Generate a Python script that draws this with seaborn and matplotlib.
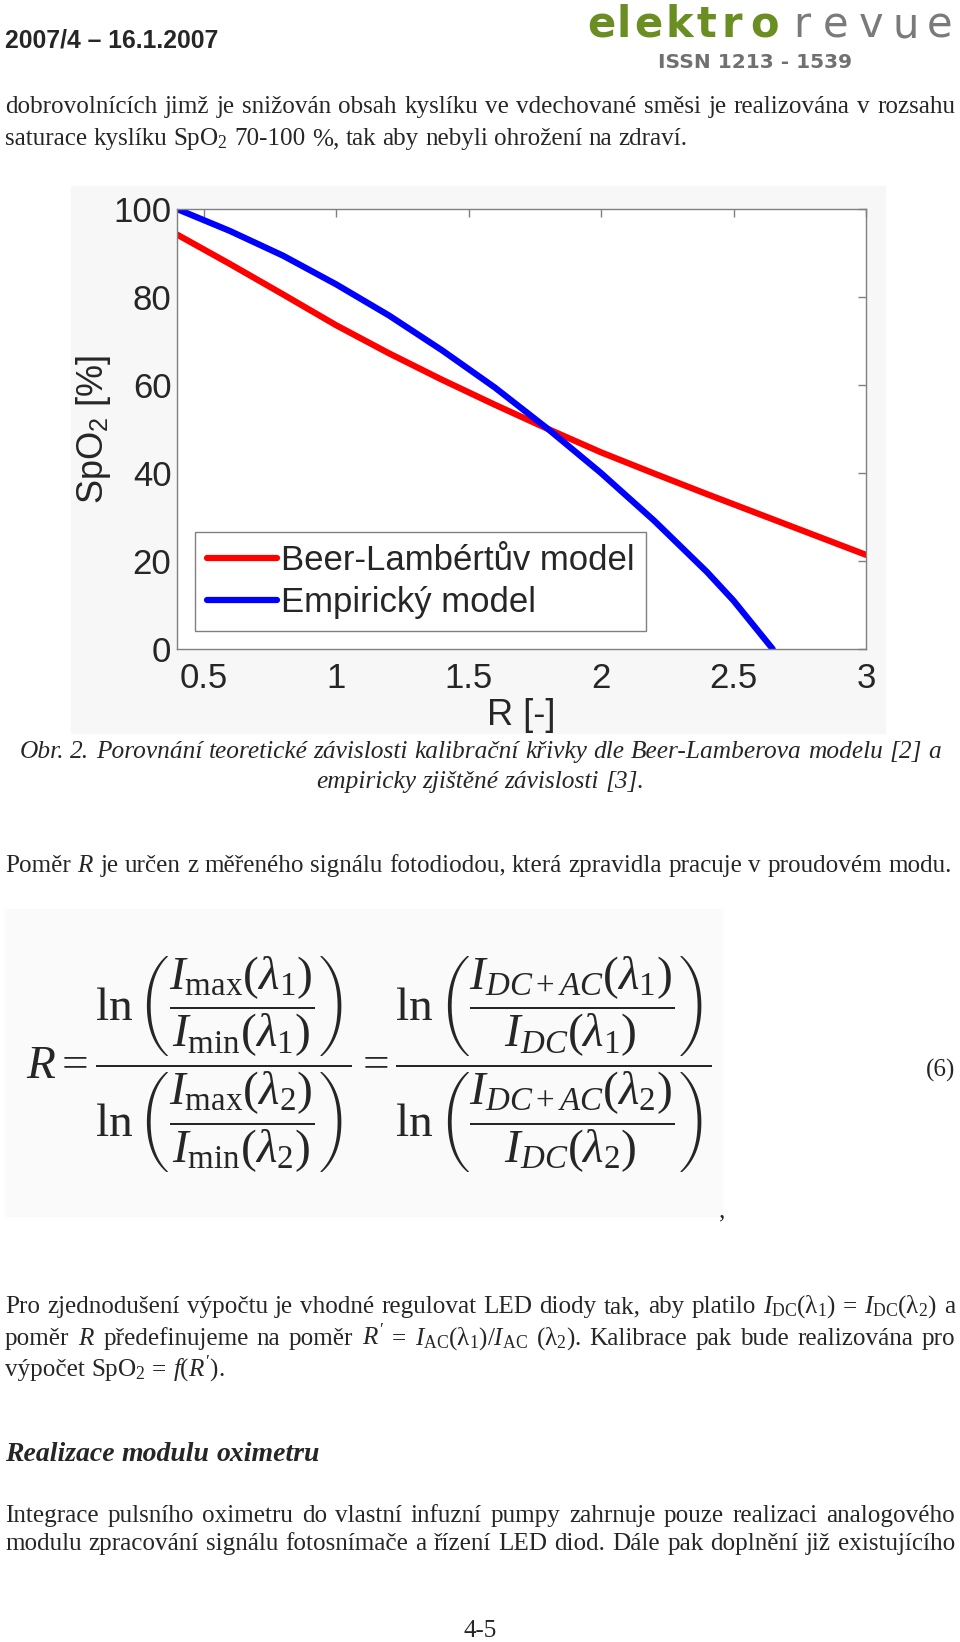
import matplotlib
matplotlib.use('Agg')
import matplotlib.pyplot as plt
import seaborn as sns
import pandas as pd
from matplotlib.patches import Rectangle

# hodnoty (Obr. 2)
r_beer = [0.4, 0.6, 0.8, 1.0, 1.2, 1.4, 1.6, 1.8, 2.0, 2.2, 2.4, 2.6, 2.8, 3.0]
spo2_beer = [94.2, 87.5, 80.6, 73.6, 67.2, 61.2, 55.5, 50.0, 44.7, 39.9, 35.2, 30.6, 26.0, 21.4]
r_emp = [0.4, 0.6, 0.8, 1.0, 1.2, 1.4, 1.6, 1.8, 2.0, 2.2, 2.4, 2.5, 2.648]
spo2_emp = [100.0, 95.0, 89.4, 82.9, 75.8, 67.9, 59.4, 50.0, 40.0, 29.2, 17.5, 11.0, 0.0]
model_names = ['Beer-Lambértův model', 'Empirický model']
model_colors = ['#ff0000', '#0000ff']
x_ticks = [0.5, 1, 1.5, 2, 2.5, 3]
x_tick_labels = ['0.5', '1', '1.5', '2', '2.5', '3']
y_ticks = [0, 20, 40, 60, 80, 100]

sns.set_style('white')
plt.rcParams['font.family'] = ['Liberation Serif', 'DejaVu Serif']
plt.rcParams['mathtext.fontset'] = 'custom'
plt.rcParams['mathtext.rm'] = 'Liberation Serif'
plt.rcParams['mathtext.it'] = 'Liberation Serif:italic'
plt.rcParams['mathtext.bf'] = 'Liberation Serif:bold'
plt.rcParams['mathtext.sf'] = 'Liberation Sans'

W, H = 960, 1642
BODY = 18.1
CHART_FONT = 25
fig = plt.figure(figsize=(W / 100, H / 100), dpi=100)
fig.patch.set_facecolor('white')
rend = fig.canvas.get_renderer()


def fy(y):
    return 1 - y / H


def put_line(y, line, x0=5, x1=955, mode='justify', **kw):
    kw.setdefault('size', BODY)
    words = line.split(' ')
    objs = [fig.text(0, fy(y), w, va='baseline', **kw) for w in words]
    widths = [o.get_window_extent(renderer=rend).width for o in objs]
    space = 0.25 * kw['size'] * 100 / 72
    total = sum(widths) + space * (len(words) - 1)
    x = x0
    if mode == 'justify' and len(words) > 1:
        space = (x1 - x0 - sum(widths)) / (len(words) - 1)
    elif mode == 'center':
        x = (x0 + x1) / 2 - total / 2
    for o, w in zip(objs, widths):
        o.set_x(x / W)
        x += w + space


# hlavička
fig.text(5 / W, fy(41), '2007/4 – 16.1.2007', family='Liberation Sans',
         weight='bold', size=17.8, va='center')
for ch, xc in zip('elektro', [601, 624, 648, 679, 706, 732, 765]):
    fig.text(xc / W, fy(37), ch, family='DejaVu Sans', size=30, weight='bold',
             color='#6b8e23', ha='center', va='baseline')
for ch, xc in zip('revue', [802, 836, 871, 906, 940]):
    fig.text(xc / W, fy(37), ch, family='DejaVu Sans', size=30, color='#7a7a7a',
             ha='center', va='baseline')
fig.text(755 / W, fy(68), 'ISSN 1213 - 1539', family='DejaVu Sans', weight='bold',
         size=14.5, color='#707070', ha='center', va='baseline')

put_line(113, 'dobrovolnících jimž je snižován obsah kyslíku ve vdechované směsi je realizována v rozsahu')
put_line(145, 'saturace kyslíku SpO$_2$ 70-100 %, tak aby nebyli ohrožení na zdraví.', mode='left')

# graf
fig.patches.append(Rectangle((71 / W, fy(733)), (885 - 71) / W, (733 - 186) / H,
                             transform=fig.transFigure, color='#f7f7f7', zorder=-2))
ax = fig.add_axes([177 / W, fy(649), 689 / W, 440 / H])
ax.set_facecolor('white')
df = pd.concat([
    pd.DataFrame({'R': r_beer, 'SpO2': spo2_beer, 'model': model_names[0]}),
    pd.DataFrame({'R': r_emp, 'SpO2': spo2_emp, 'model': model_names[1]}),
])
sns.lineplot(data=df, x='R', y='SpO2', hue='model', palette=model_colors,
             linewidth=4.5, estimator=None, ax=ax)
ax.set_xlim(0.4, 3)
ax.set_ylim(0, 100)
ax.set_xticks(x_ticks)
ax.set_xticklabels(x_tick_labels)
ax.set_yticks(y_ticks)
for lab in ax.get_xticklabels() + ax.get_yticklabels():
    lab.set_family('Liberation Sans')
ax.tick_params(direction='in', length=6, width=1, color='#808080', top=True,
               right=True, labelsize=CHART_FONT)
ax.tick_params(axis='x', pad=9)
ax.tick_params(axis='y', pad=4)
for sp in ax.spines.values():
    sp.set_color('#808080')
    sp.set_linewidth(1)
ax.set_xlabel('R [-]', family='Liberation Sans', size=CHART_FONT + 1)
ax.set_ylabel(r'SpO$_\mathsf{2}$ [%]', family='Liberation Sans', size=CHART_FONT + 1)
ax.xaxis.set_label_coords(0.5, -0.112)
ax.yaxis.set_label_coords(-0.093, 0.5)
leg = ax.legend(loc='lower left', bbox_to_anchor=(0.026, 0.041), borderaxespad=0,
                prop={'family': 'Liberation Sans', 'size': 25}, handlelength=2.0,
                handletextpad=0.12, labelspacing=0.25, borderpad=0.35,
                fancybox=False, edgecolor='#808080', framealpha=1)
leg.get_frame().set_linewidth(1)

# popisek
put_line(758, 'Obr. 2. Porovnání teoretické závislosti kalibrační křivky dle Beer-Lamberova modelu [2] a',
         mode='center', style='italic', size=18.3)
put_line(788, 'empiricky zjištěné závislosti [3].', mode='center', style='italic', size=18.3)

put_line(872, 'Poměr $R$ je určen z měřeného signálu fotodiodou, která zpravidla pracuje v proudovém modu.',
         mode='left')

# vzorec (6)
fig.patches.append(Rectangle((5 / W, fy(1216)), (722 - 5) / W, (1216 - 909) / H,
                             transform=fig.transFigure, color='#fafafa', zorder=-2))
formula = (r'$R=\dfrac{\ln\left(\dfrac{I_{\max}(\lambda_1)}{I_{\min}(\lambda_1)}\right)}'
           r'{\ln\left(\dfrac{I_{\max}(\lambda_2)}{I_{\min}(\lambda_2)}\right)}'
           r'=\dfrac{\ln\left(\dfrac{I_{DC+AC}(\lambda_1)}{I_{DC}(\lambda_1)}\right)}'
           r'{\ln\left(\dfrac{I_{DC+AC}(\lambda_2)}{I_{DC}(\lambda_2)}\right)}$')
fig.text(26 / W, fy(1065), formula, size=34, va='center', ha='left')
fig.text(955 / W, fy(1070), '(6)', size=BODY, va='center', ha='right')
fig.text(722 / W, fy(1217), ',', size=BODY, va='baseline', ha='center')

put_line(1313, r'Pro zjednodušení výpočtu je vhodné regulovat LED diody tak, aby platilo '
               r'$I_{\mathrm{DC}}(\mathrm{\lambda}_1)$ = $I_{\mathrm{DC}}(\mathrm{\lambda}_2)$ a')
put_line(1345, r"poměr $R$ předefinujeme na poměr $R'$ = "
               r"$I_{\mathrm{AC}}(\mathrm{\lambda}_1)/I_{\mathrm{AC}}$ $(\mathrm{\lambda}_2)$. "
               r"Kalibrace pak bude realizována pro")
put_line(1376, r"výpočet SpO$_2$ = $f(R')$.", mode='left')

put_line(1461, 'Realizace modulu oximetru', mode='left', style='italic', weight='bold', size=20)

put_line(1522, 'Integrace pulsního oximetru do vlastní infuzní pumpy zahrnuje pouze realizaci analogového')
put_line(1550, 'modulu zpracování signálu fotosnímače a řízení LED diod. Dále pak doplnění již existujícího')

fig.text(480 / W, fy(1637), '4-5', size=BODY, ha='center', va='baseline')

fig.savefig('out.png', dpi=100)
